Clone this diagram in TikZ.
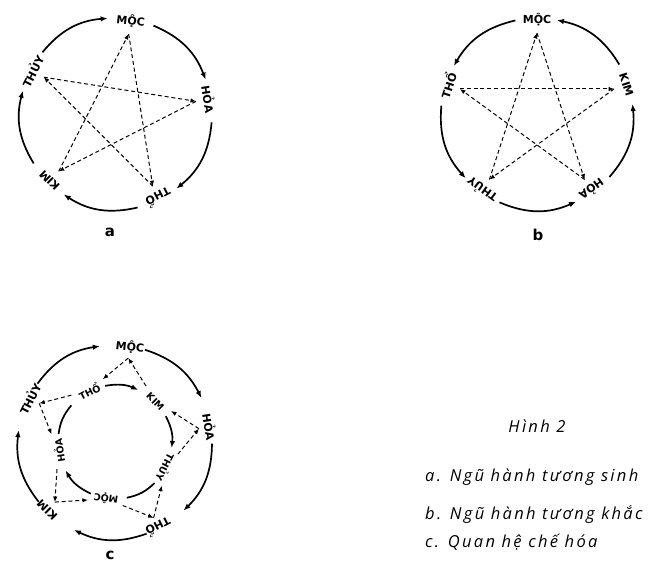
\documentclass[tikz,border=0pt]{standalone}
\usepackage{fontspec}
\setmainfont{Open Sans}
\newfontfamily\labf{DejaVu Sans}
\newfontfamily\capf{Open Sans}[LetterSpace=14]
\usetikzlibrary{arrows.meta}
\tikzset{
  lab/.style={font=\labf\bfseries\fontsize{11}{11}\selectfont, inner sep=0pt},
  ilab/.style={font=\labf\bfseries\fontsize{9.5}{10}\selectfont, inner sep=0pt},
  arcarr/.style={line width=1.7pt, -{Latex[length=7pt,width=5.5pt]}},
  arcplain/.style={line width=1.7pt},
  dsh/.style={line width=1pt, dash pattern=on 4pt off 2.8pt, -{Latex[length=5.5pt,width=4.5pt]}},
  sublab/.style={font=\labf\bfseries\fontsize{15}{15}\selectfont, inner sep=0pt},
  captxt/.style={font=\capf\itshape\fontsize{16.5}{19}\selectfont, anchor=base west, inner sep=0pt},
}
\begin{document}
\begin{tikzpicture}[x=1pt,y=1pt]
\useasboundingbox (0,0) rectangle (657,573);

% ---------------- diagram a ----------------
\coordinate (A) at (116,459);
\foreach \n/\ang/\txt/\rot in {moc/81/MỘC/-6, hoa/9/HỎA/-81, tho/-63/THỔ/-153, kim/-135/KIM/135, thuy/153/THỦY/63} {
  \node[lab, rotate=\rot] (a-\n) at ([shift={(\ang:94)}]A) {\txt};
  \coordinate (a-\n-d) at ([shift={(\ang:81)}]A);
}
\foreach \i/\s/\e in {1/140/95, 2/67/21, 3/-5/-51, 4/-77/-123, 5/-149/-194} {
  \coordinate (a-s\i) at ([shift={(\s:96)}]A);
  \coordinate (a-e\i) at ([shift={(\e:96)}]A);
  \draw[arcarr] (a-s\i) to[bend left=23] (a-e\i);
}
\draw[dsh] (a-moc-d) -- (a-tho-d);
\draw[dsh] (a-tho-d) -- (a-thuy-d);
\draw[dsh] (a-thuy-d) -- (a-hoa-d);
\draw[dsh] (a-hoa-d) -- (a-kim-d);
\draw[dsh] (a-kim-d) -- (a-moc-d);
\node[sublab] (la) at (110,341) {a};

% ---------------- diagram b ----------------
\coordinate (B) at (537,459);
\foreach \n/\ang/\txt/\rot in {moc/90/MỘC/0, kim/18/KIM/-72, hoa/-54/HỎA/-144, thuy/-126/THỦY/144, tho/162/THỔ/72} {
  \node[lab, rotate=\rot] (b-\n) at ([shift={(\ang:94)}]B) {\txt};
  \coordinate (b-\n-d) at ([shift={(\ang:81)}]B);
}
\foreach \i/\s/\e in {1/103/150, 2/175/222, 3/247/294, 4/319/366, 5/31/78} {
  \coordinate (b-s\i) at ([shift={(\s:96)}]B);
  \coordinate (b-e\i) at ([shift={(\e:96)}]B);
  \draw[arcarr] (b-s\i) to[bend right=23.5] (b-e\i);
}
\draw[dsh] (b-moc-d) -- (b-hoa-d);
\draw[dsh] (b-hoa-d) -- (b-tho-d);
\draw[dsh] (b-tho-d) -- (b-kim-d);
\draw[dsh] (b-kim-d) -- (b-thuy-d);
\draw[dsh] (b-thuy-d) -- (b-moc-d);
\node[sublab] (lb) at (538,338) {b};

% ---------------- diagram c ----------------
\coordinate (C) at (115,131);
\foreach \n/\ang/\txt/\rot in {moc/81/MỘC/-6, hoa/9/HỎA/-81, tho/-63/THỔ/-153, kim/-135/KIM/135, thuy/153/THỦY/63} {
  \node[lab, rotate=\rot] (co-\n) at ([shift={(\ang:96)}]C) {\txt};
  \coordinate (co-\n-d) at ([shift={(\ang:85)}]C);
}
\foreach \i/\s/\e in {1/143/99, 2/72/27, 3/-1/-45, 4/-71/-115, 5/-142/-187} {
  \coordinate (co-s\i) at ([shift={(\s:97)}]C);
  \coordinate (co-e\i) at ([shift={(\e:97)}]C);
  \draw[arcarr] (co-s\i) to[bend left=22.5] (co-e\i);
}
\foreach \n/\ang/\txt/\rot in {tho/117/THỔ/27, kim/45/KIM/-45, thuy/-27/THỦY/-117, moc/-99/MỘC/171, hoa/-171/HỎA/99} {
  \node[ilab, rotate=\rot] (ci-\n) at ([shift={(\ang:57)}]C) {\txt};
}
% inner arcs
\coordinate (ci-s1) at ([shift={(100:57)}]C);  \coordinate (ci-e1) at ([shift={(66:57)}]C);
\coordinate (ci-s2) at ([shift={(27:57)}]C);   \coordinate (ci-e2) at ([shift={(-6:57)}]C);
\coordinate (ci-s3) at ([shift={(-46:57)}]C);  \coordinate (ci-e3) at ([shift={(-78:57)}]C);
\coordinate (ci-s4) at ([shift={(-115:57)}]C); \coordinate (ci-e4) at ([shift={(-150:57)}]C);
\coordinate (ci-s5) at ([shift={(172:57)}]C);  \coordinate (ci-e5) at ([shift={(140:57)}]C);
\draw[arcarr] (ci-s1) to[bend left=17] (ci-e1);
\draw[arcarr] (ci-s2) to[bend left=16.5] (ci-e2);
\draw[arcplain] (ci-s3) to[bend left=16] (ci-e3);
\draw[arcarr] (ci-s4) to[bend left=17.5] (ci-e4);
\draw[arcplain] (ci-s5) to[bend left=16] (ci-e5);
% inner dashed end points
\coordinate (ci-tho-a) at ([shift={(101:64)}]C);
\coordinate (ci-tho-b) at ([shift={(133:64)}]C);
\coordinate (ci-kim-a) at ([shift={(29:64)}]C);
\coordinate (ci-kim-b) at ([shift={(61:64)}]C);
\coordinate (ci-thuy-a) at ([shift={(-43:64)}]C);
\coordinate (ci-thuy-b) at ([shift={(-11:64)}]C);
\coordinate (ci-moc-a) at ([shift={(-115:64)}]C);
\coordinate (ci-moc-b) at ([shift={(-83:64)}]C);
\coordinate (ci-hoa-a) at ([shift={(173:64)}]C);
\coordinate (ci-hoa-b) at ([shift={(205:64)}]C);
\draw[dsh] (co-moc-d) -- (ci-tho-a);
\draw[dsh] (ci-kim-b) -- (co-moc-d);
\draw[dsh] (co-hoa-d) -- (ci-kim-a);
\draw[dsh] (ci-thuy-b) -- (co-hoa-d);
\draw[dsh] (co-tho-d) -- (ci-thuy-a);
\draw[dsh] (ci-moc-b) -- (co-tho-d);
\draw[dsh] (co-kim-d) -- (ci-moc-a);
\draw[dsh] (ci-hoa-b) -- (co-kim-d);
\draw[dsh] (co-thuy-d) -- (ci-hoa-a);
\draw[dsh] (ci-tho-b) -- (co-thuy-d);
\node[sublab] (lc) at (110,18) {c};

% ---------------- caption ----------------
\node[captxt, anchor=base] (h2) at (537,140) {Hình 2};
\node[captxt] (ca) at (425,91) {a. Ngũ hành tương sinh};
\node[captxt] (cb) at (425,53) {b. Ngũ hành tương khắc};
\node[captxt] (cc) at (425,25) {c. Quan hệ chế hóa};
\end{tikzpicture}
\end{document}
